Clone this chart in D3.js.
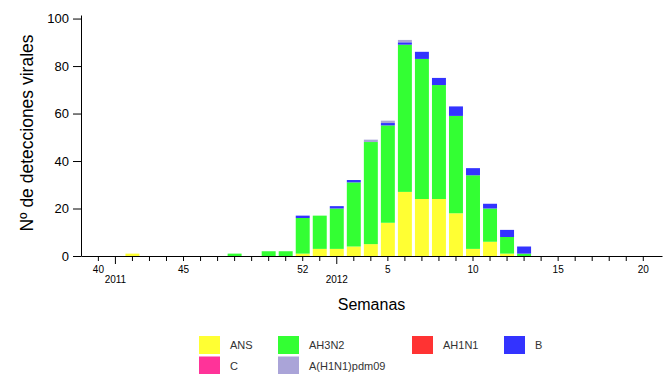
<!DOCTYPE html>
<html>
<head>
<meta charset="utf-8">
<script src="https://cdnjs.cloudflare.com/ajax/libs/d3/7.8.5/d3.min.js"></script>
<style>
  body { margin: 0; background: #fff; }
  svg { display: block; font-family: "Liberation Sans", Arial, sans-serif; }
  .yAxis text { font-size: 13px; }
  .xAxis text { font-size: 10px; }
</style>
</head>
<body>
<div id="chart"></div>
<script>
// semanas 40-52 de 2011 y 1-20 de 2012
var weeks = [40,41,42,43,44,45,46,47,48,49,50,51,52,1,2,3,4,5,6,7,8,9,10,11,12,13,14,15,16,17,18,19,20];
var weekLabels = { "40":"40", "45":"45", "52":"52", "5":"5", "10":"10", "15":"15", "20":"20" };
var yearLabels = [ {week:41, text:"2011"}, {week:2, text:"2012"} ];

var seriesNames = ["ANS", "AH3N2", "AH1N1", "B", "C", "A(H1N1)pdm09"];
var seriesColors = ["#ffff33", "#33ff33", "#ff3333", "#3333ff", "#ff3399", "#aaa4d8"];

var ANS   = [0,0,1,0,0,0,0,0,0,0,0,0,1, 3,3,4,5,14,27,24,24,18,3,6,1,0, 0,0,0,0,0,0,0];
var AH3N2 = [0,0,0,0,0,0,0,0,1,0,2,2,15, 14,17,27,43,41,62,59,48,41,31,14,7,1, 0,0,0,0,0,0,0];
var AH1N1 = [0,0,0,0,0,0,0,0,0,0,0,0,0, 0,0,0,0,0,0,0,0,0,0,0,0,0, 0,0,0,0,0,0,0];
var B     = [0,0,0,0,0,0,0,0,0,0,0,0,1, 0,1,1,0,1,1,3,3,4,3,2,3,3, 0,0,0,0,0,0,0];
var C     = [0,0,0,0,0,0,0,0,0,0,0,0,0, 0,0,0,0,0,0,0,0,0,0,0,0,0, 0,0,0,0,0,0,0];
var PDM09 = [0,0,0,0,0,0,0,0,0,0,0,0,0, 0,0,0,1,1,1,0,0,0,0,0,0,0, 0,0,0,0,0,0,0];

var yTicks = [0, 20, 40, 60, 80, 100];

(function () {
  'use strict'

  var seriesData = [ANS, AH3N2, AH1N1, B, C, PDM09];
  var rows = weeks.map(function(w, i){
    var r = { week: String(w) };
    for(var s = 0; s < seriesNames.length; s++){
      r[seriesNames[s]] = seriesData[s][i];
    }
    return r;
  });

  var width = 671, height = 374;
  var left = 81, right = 662, top = 15, bottom = 256;

  var svg = d3.select("#chart").append("svg")
    .attr("width", width)
    .attr("height", height);

  var x = d3.scaleBand()
    .domain(weeks.map(String))
    .range([left, right])
    .paddingInner(0.18)
    .paddingOuter(0.65)
    .align(0.47);

  var y = d3.scaleLinear().domain([0, 101.5]).range([bottom, top]);

  var stack = d3.stack().keys(seriesNames);
  var layers = stack(rows);

  svg.append("g")
    .selectAll("g")
    .data(layers)
    .enter().append("g")
    .attr("fill", function(d, i){ return seriesColors[i]; })
    .selectAll("rect")
    .data(function(d){ return d.filter(function(p){ return p[1] - p[0] > 0; }); })
    .enter().append("rect")
    .attr("x", function(d){ return x(d.data.week); })
    .attr("width", x.bandwidth())
    .attr("y", function(d){ return y(d[1]); })
    .attr("height", function(d){ return y(d[0]) - y(d[1]); });

  // eje X
  var xAxis = svg.append("g")
    .attr("class", "xAxis")
    .attr("transform", "translate(0," + bottom + ")")
    .call(d3.axisBottom(x).tickSize(5).tickSizeOuter(0).tickPadding(5)
      .tickFormat(function(d){ return weekLabels[d] || ""; }));
  xAxis.selectAll(".tick").filter(function(d){
      return yearLabels.some(function(yl){ return String(yl.week) == d; });
    }).select("line").attr("y2", 8);
  xAxis.selectAll("text").attr("fill", "#000");
  xAxis.selectAll("line, path").attr("stroke", "#000");

  svg.append("g")
    .selectAll("text")
    .data(yearLabels)
    .enter().append("text")
    .attr("x", function(d){ return x(String(d.week)) + x.bandwidth() / 2; })
    .attr("y", 283)
    .attr("text-anchor", "middle")
    .attr("font-size", "10px")
    .text(function(d){ return d.text; });

  // eje Y
  var yAxis = svg.append("g")
    .attr("class", "yAxis")
    .attr("transform", "translate(" + left + ",0)")
    .call(d3.axisLeft(y).tickValues(yTicks).tickSize(8).tickSizeOuter(0).tickPadding(4));
  yAxis.selectAll("text").attr("fill", "#000");
  yAxis.selectAll("line, path").attr("stroke", "#000");

  svg.append("text")
    .attr("transform", "translate(33,133) rotate(-90)")
    .attr("text-anchor", "middle")
    .attr("font-size", "17.5px")
    .text("Nº de detecciones virales");

  svg.append("text")
    .attr("x", (left + right) / 2)
    .attr("y", 310)
    .attr("text-anchor", "middle")
    .attr("font-size", "16px")
    .text("Semanas");

  // leyenda
  var legendX = [199, 278, 412, 504];
  var legendY = [336, 356.5];
  var legend = svg.append("g")
    .selectAll("g")
    .data(seriesNames)
    .enter().append("g")
    .attr("transform", function(d, i){
      return "translate(" + legendX[i % 4] + "," + legendY[Math.floor(i / 4)] + ")";
    });
  legend.append("rect")
    .attr("width", 21)
    .attr("height", 18)
    .attr("fill", function(d, i){ return seriesColors[i]; });
  legend.append("text")
    .attr("x", 31)
    .attr("y", 13)
    .attr("font-size", "11px")
    .attr("fill", "#333")
    .text(function(d){ return d; });

})()
</script>
</body>
</html>
